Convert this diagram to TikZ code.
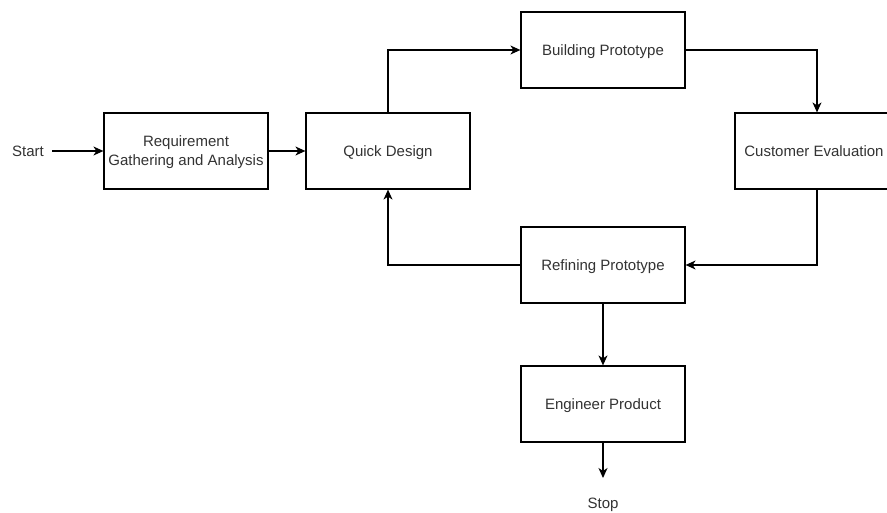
\documentclass[tikz,border=0pt]{standalone}
\usepackage{fontspec}
\setmainfont{Liberation Sans}
\usetikzlibrary{arrows.meta}
\begin{document}
\begin{tikzpicture}[x=1pt,y=-1pt,
  box/.style={draw=black,line width=1.2pt,minimum width=164pt,minimum height=76pt,inner sep=0pt,align=center,text=black!80,text depth=0pt,font=\fontsize{15}{19}\selectfont},
  lbl/.style={inner sep=0pt,text=black!80,font=\fontsize{15}{19}\selectfont},
  conn/.style={draw=black,line width=1.2pt,-{Stealth[length=10pt,width=9pt,inset=3pt]}}]
\useasboundingbox (0,0) rectangle (887,513);
\fill[white] (0,0) rectangle (887,513);
\node[box] (req) at (186,151) {Requirement\\Gathering and Analysis};
\node[box] (quick) at (388,151) {Quick Design};
\node[box] (build) at (603,50) {Building Prototype};
\node[box] (cust) at (817,151) {\hspace*{-6pt}Customer Evaluation};
\node[box] (refine) at (603,265) {Refining Prototype};
\node[box] (eng) at (603,404) {Engineer Product};
\node[lbl] (start) at (28,151) {Start};
\node[lbl] (stop) at (603,505) {Stop};
\draw[conn,shorten <=8pt] (start.east) -- (req.west);
\draw[conn] (req.east) -- (quick.west);
\draw[conn] (quick.north) |- (build.west);
\draw[conn] (build.east) -| (cust.north);
\draw[conn] (cust.south) |- (refine.east);
\draw[conn] (refine.west) -| (quick.south);
\draw[conn] (refine.south) -- (eng.north);
\draw[conn,shorten >=20pt] (eng.south) -- (stop.north);
\end{tikzpicture}
\end{document}
